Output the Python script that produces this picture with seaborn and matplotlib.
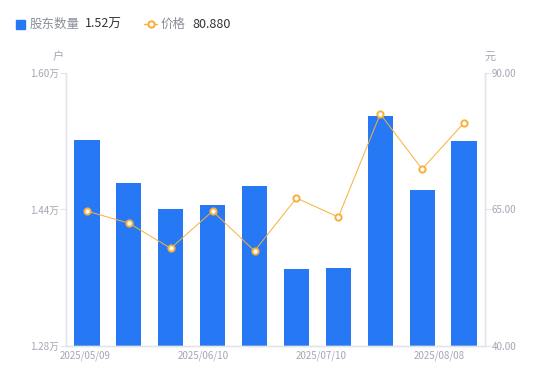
import numpy as np
import pandas as pd
import matplotlib
matplotlib.use("Agg")
import matplotlib.pyplot as plt
import seaborn as sns
from matplotlib.lines import Line2D

# data
dates = ["2025/05/09", "2025/05/20", "2025/05/30", "2025/06/10", "2025/06/20",
         "2025/06/30", "2025/07/10", "2025/07/20", "2025/07/31", "2025/08/08"]
holders = [1.5215, 1.471, 1.440, 1.445, 1.4675, 1.370, 1.3714, 1.5496, 1.463, 1.520]  # 万户
price = [64.7, 62.5, 57.9, 64.7, 57.4, 67.1, 63.6, 82.5, 72.4, 80.88]
shown_dates = ["2025/05/09", "2025/06/10", "2025/07/10", "2025/08/08"]

BLUE = "#2778F5"
ORANGE = "#F8B03A"
GREY = "#A3A7B5"
AXIS = "#E3E5EA"

sns.set_style("white")
plt.rcParams['font.family'] = ['Noto Sans CJK SC', 'DejaVu Sans']

df = pd.DataFrame({"date": dates, "holders": holders, "price": price, "idx": np.arange(len(dates))})

fig = plt.figure(figsize=(5.5, 3.81), dpi=100)
ax = fig.add_axes([0.12, 0.0919, 0.7618, 0.7165])

sns.barplot(data=df, x="idx", y="holders", color=BLUE, width=0.6, saturation=1,
            linewidth=0, ax=ax)
ax.set_ylim(1.28, 1.60)
ax.set_xlim(-0.5, 9.5)
ax.set_yticks([1.28, 1.44, 1.60])
ax.set_yticklabels([f"{v:.2f}万" for v in [1.28, 1.44, 1.60]])

ax2 = ax.twinx()
sns.lineplot(data=df, x="idx", y="price", color=ORANGE, linewidth=0.7, marker="o",
             markersize=4.5, markerfacecolor="white", markeredgecolor=ORANGE,
             markeredgewidth=1.4, ax=ax2)
ax2.set_ylim(40, 90)
ax2.set_yticks([40, 65, 90])
ax2.set_yticklabels([f"{v:.2f}" for v in [40, 65, 90]])
ax2.set_xlim(-0.5, 9.5)

# x labels spread evenly like the source chart
ax.set_xticks(np.linspace(-0.05, 8.4, len(shown_dates)))
ax.set_xticklabels(shown_dates)
ax.tick_params(axis="x", length=0, colors=GREY, labelsize=7, pad=3)
ax.tick_params(axis="y", length=4, width=0.8, color=AXIS, labelcolor=GREY, labelsize=7, pad=1)
ax2.tick_params(axis="y", length=4, width=0.8, color=AXIS, labelcolor=GREY, labelsize=7, pad=1)
for a in (ax, ax2):
    a.set_xlabel("")
    a.set_ylabel("")
    a.grid(False)
    for s in ("left", "right", "bottom"):
        a.spines[s].set_color(AXIS)
        a.spines[s].set_linewidth(1)
    a.spines["top"].set_visible(False)

fig.text(58 / 550, 1 - 57 / 381, "户", color=GREY, fontsize=8, ha="center", va="center")
fig.text(490 / 550, 1 - 57 / 381, "元", color=GREY, fontsize=8, ha="center", va="center")

# legend row at top
fig.patches.append(plt.Rectangle((16 / 550, 1 - 28.5 / 381), 9 / 550, 9 / 381,
                                 transform=fig.transFigure, color=BLUE, figure=fig))
fig.text(30 / 550, 1 - 24 / 381, "股东数量", color="#8A8E99", fontsize=9, va="center")
fig.text(85 / 550, 1 - 24 / 381, f"{holders[-1]:.2f}万", color="#333333", fontsize=9, va="center")
fig.lines.append(Line2D([144 / 550, 157 / 550], [1 - 24 / 381] * 2, transform=fig.transFigure,
                        color=ORANGE, linewidth=1))
fig.lines.append(Line2D([150.5 / 550], [1 - 24 / 381], transform=fig.transFigure, color=ORANGE,
                        marker="o", markersize=4.5, markerfacecolor="white", markeredgewidth=1.5))
fig.text(161 / 550, 1 - 24 / 381, "价格", color="#8A8E99", fontsize=9, va="center")
fig.text(192 / 550, 1 - 24 / 381, f"{price[-1]:.3f}", color="#333333", fontsize=9, va="center")

fig.savefig("out.png", dpi=100)
